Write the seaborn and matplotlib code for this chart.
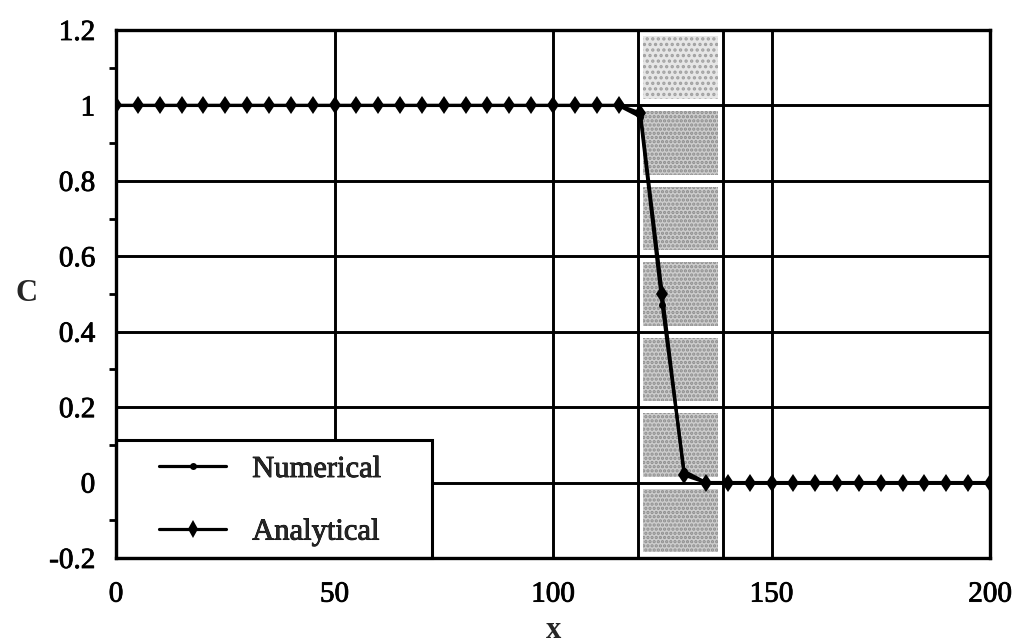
import numpy as np
import pandas as pd
import matplotlib
matplotlib.use("Agg")
import matplotlib.pyplot as plt
import matplotlib.patheffects as pe
from matplotlib.patches import Rectangle
from matplotlib.lines import Line2D
from matplotlib.ticker import MultipleLocator
import seaborn as sns

# ---- data -------------------------------------------------------------
x_pos = list(range(0, 205, 5))

numerical = ([1.0] * 24 +                 # x = 0 .. 115
             [0.97, 0.47, 0.03] +         # x = 120, 125, 130
             [0.0] * 14)                  # x = 135 .. 200

analytical = ([1.0] * 24 +
              [0.98, 0.50, 0.02] +
              [0.0] * 14)

series_names = ["Numerical", "Analytical"]
x_ticks = [0, 50, 100, 150, 200]
y_ticks = [-0.2, 0.0, 0.2, 0.4, 0.6, 0.8, 1.0, 1.2]
y_tick_labels = ["-0.2", "0", "0.2", "0.4", "0.6", "0.8", "1", "1.2"]
layer_edges = [119.5, 139.0]

df = pd.DataFrame({
    "x": x_pos * 2,
    "C": numerical + analytical,
    "series": [series_names[0]] * len(x_pos) + [series_names[1]] * len(x_pos),
})

# ---- style ------------------------------------------------------------
sns.set_theme(style="white")
plt.rcParams["font.family"] = ["Liberation Serif", "DejaVu Serif"]
plt.rcParams["hatch.linewidth"] = 1.6

ink = [pe.withStroke(linewidth=0.6, foreground="black")]

fig = plt.figure(figsize=(10.16, 6.43), dpi=100)
ax = fig.add_axes([116 / 1016, 1 - 558 / 643, 874 / 1016, 528 / 643])

# stippled grey layer, one block per grid cell
for lo in np.arange(-0.2, 1.2, 0.2):
    top_cell = lo > 0.9
    ax.add_patch(Rectangle((120.6, lo + 0.016), 137.7 - 120.6, 0.2 - 0.032,
                           facecolor="#e6e6e6" if top_cell else "#cdcdcd",
                           edgecolor="#a0a0a0" if top_cell else "#8c8c8c",
                           lw=0, hatch="..." if top_cell else "....",
                           zorder=1))
for xe in layer_edges:
    ax.axvline(xe, color="black", lw=2.1, zorder=2)

# curves
sns.lineplot(data=df[df.series == "Numerical"], x="x", y="C", ax=ax,
             color="black", lw=2.3, marker="o", markersize=5,
             markeredgewidth=0, zorder=3, legend=False)
sns.lineplot(data=df[df.series == "Analytical"], x="x", y="C", ax=ax,
             color="black", lw=2.3, marker="d", markersize=9.5,
             markeredgewidth=0, zorder=3, legend=False)

# axes, ticks, grid
ax.set_xlim(0, 200)
ax.set_ylim(-0.2, 1.2)
ax.set_xticks(x_ticks)
ax.set_xticklabels([str(t) for t in x_ticks])
ax.set_yticks(y_ticks)
ax.set_yticklabels(y_tick_labels)
ax.yaxis.set_minor_locator(MultipleLocator(0.1))
ax.tick_params(axis="both", which="major", direction="out", length=9,
               width=2.0, color="black", labelsize=21, labelcolor="black")
ax.tick_params(axis="x", pad=8)
ax.tick_params(axis="y", pad=6)
ax.tick_params(axis="y", which="minor", direction="out", length=5,
               width=2.0, color="black", left=True)
ax.grid(True, which="major", color="black", lw=2.1)
ax.set_axisbelow(True)
for sp in ax.spines.values():
    sp.set_linewidth(2.4)
    sp.set_color("black")
    sp.set_zorder(6)
for lab in ax.get_xticklabels() + ax.get_yticklabels():
    lab.set_path_effects(ink)

ax.set_xlabel("x", fontsize=22, fontweight="bold", labelpad=6)
ax.set_ylabel("C", fontsize=22, fontweight="bold", rotation=0,
              va="center", ha="center")
ax.yaxis.set_label_coords(-0.102, 0.5)

# legend box in the lower-left corner
ax.add_patch(Rectangle((0, 0), 316 / 874, 118 / 528, transform=ax.transAxes,
                       facecolor="white", edgecolor="black", lw=2.2,
                       zorder=5, clip_on=False))
handles = [
    Line2D([], [], color="black", lw=2.3, marker="o", markersize=5,
           markeredgewidth=0),
    Line2D([], [], color="black", lw=2.3, marker="d", markersize=9,
           markeredgewidth=0),
]
leg = ax.legend(handles, series_names, loc="upper left",
                bbox_to_anchor=(43 / 874, 103 / 528), frameon=False,
                fontsize=22, handlelength=2.2, handletextpad=0.85,
                labelspacing=1.1, borderpad=0, borderaxespad=0)
leg.set_zorder(7)
for t in leg.get_texts():
    t.set_path_effects(ink)

fig.savefig("out.png", dpi=100, facecolor="white")
